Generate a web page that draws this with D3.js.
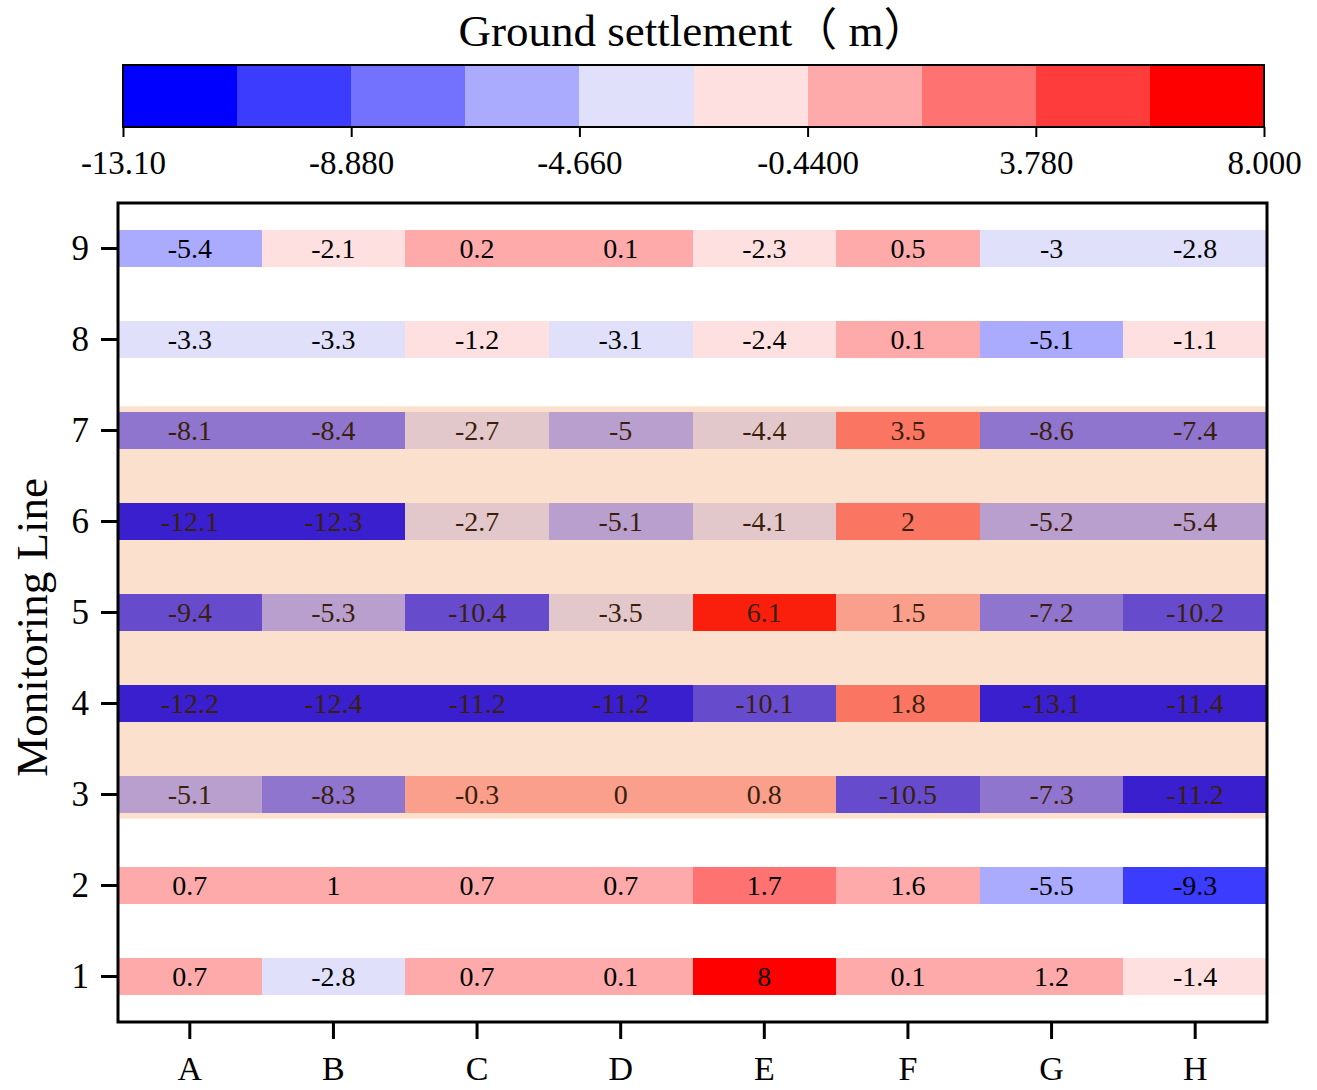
<!DOCTYPE html>
<html>
<head>
<meta charset="utf-8">
<script src="https://cdn.jsdelivr.net/npm/d3@7"></script>
<style>
  body { margin: 0; background: #fff; }
  svg text { font-family: 'Liberation Serif', 'Times New Roman', 'Noto Sans CJK SC', serif; fill: #000; }
</style>
</head>
<body>
<svg id="chart"></svg>
<script>
// monitoring points along each line
var columns = ['A', 'B', 'C', 'D', 'E', 'F', 'G', 'H'];
var lines = [9, 8, 7, 6, 5, 4, 3, 2, 1];

// settlement values (m), one array per monitoring line
var line9 = [-5.4, -2.1, 0.2, 0.1, -2.3, 0.5, -3, -2.8];
var line8 = [-3.3, -3.3, -1.2, -3.1, -2.4, 0.1, -5.1, -1.1];
var line7 = [-8.1, -8.4, -2.7, -5, -4.4, 3.5, -8.6, -7.4];
var line6 = [-12.1, -12.3, -2.7, -5.1, -4.1, 2, -5.2, -5.4];
var line5 = [-9.4, -5.3, -10.4, -3.5, 6.1, 1.5, -7.2, -10.2];
var line4 = [-12.2, -12.4, -11.2, -11.2, -10.1, 1.8, -13.1, -11.4];
var line3 = [-5.1, -8.3, -0.3, 0, 0.8, -10.5, -7.3, -11.2];
var line2 = [0.7, 1, 0.7, 0.7, 1.7, 1.6, -5.5, -9.3];
var line1 = [0.7, -2.8, 0.7, 0.1, 8, 0.1, 1.2, -1.4];
var settlement = [line9, line8, line7, line6, line5, line4, line3, line2, line1];

// colour bar
var valueRange = [-13.1, 8.0];
var binColors = ['#0000ff', '#3c3cff', '#7272ff', '#aaaaff', '#e0e0fb',
                 '#ffe0e0', '#ffaaaa', '#ff7272', '#ff3c3c', '#ff0000'];
var cbTickValues = [-13.1, -8.88, -4.66, -0.44, 3.78, 8.0];
var cbTickLabels = ['-13.10', '-8.880', '-4.660', '-0.4400', '3.780', '8.000'];

// shaded zone (lines 3 to 7)
var zoneLines = [7, 3];

var width = 1317, height = 1090;
var plot = { left: 118, right: 1267, top: 203, bottom: 1022 };
var cb = { left: 123, right: 1264, top: 65, bottom: 127 };

var svg = d3.select('#chart')
    .attr('width', width)
    .attr('height', height);

// ---- colour scale + colour bar ----
var nBins = binColors.length;
var step = (valueRange[1] - valueRange[0]) / nBins;
var edges = d3.range(nBins + 1).map(i => valueRange[0] + i * step);

var color = d3.scaleThreshold()
    .domain(edges.slice(1, -1))
    .range(binColors);

var cbScale = d3.scaleLinear()
    .domain(valueRange)
    .range([cb.left, cb.right]);

svg.append('text')
    .attr('x', (cb.left + cb.right) / 2)
    .attr('y', 46)
    .attr('text-anchor', 'middle')
    .style('font-size', '45px')
    .text('Ground settlement（ m）');

svg.append('g')
    .selectAll('rect')
    .data(binColors)
    .join('rect')
        .attr('x', (d, i) => cbScale(edges[i]))
        .attr('y', cb.top)
        .attr('width', (d, i) => cbScale(edges[i + 1]) - cbScale(edges[i]))
        .attr('height', cb.bottom - cb.top)
        .attr('fill', d => d)
        .attr('shape-rendering', 'crispEdges');

svg.append('rect')
    .attr('x', cb.left)
    .attr('y', cb.top)
    .attr('width', cb.right - cb.left)
    .attr('height', cb.bottom - cb.top)
    .attr('fill', 'none')
    .attr('stroke', '#000')
    .attr('stroke-width', 2);

var cbAxis = svg.append('g')
    .attr('transform', `translate(0,${cb.bottom})`)
    .call(d3.axisBottom(cbScale)
        .tickValues(cbTickValues)
        .tickFormat((d, i) => cbTickLabels[i])
        .tickSize(10)
        .tickSizeOuter(0)
        .tickPadding(14));
cbAxis.select('.domain').remove();
cbAxis.selectAll('line').attr('stroke-width', 2);
cbAxis.selectAll('text').style('font-size', '33px');

// ---- heat strips ----
var x = d3.scaleBand()
    .domain(columns)
    .range([plot.left, plot.right]);

var y = d3.scaleBand()
    .domain(lines)
    .range([plot.top, plot.bottom]);

var bw = y.bandwidth();
var cells = [];
settlement.forEach((row, r) => {
    row.forEach((v, c) => {
        cells.push({ line: lines[r], col: columns[c], value: v });
    });
});

var cellG = svg.append('g');
cellG.selectAll('rect')
    .data(cells)
    .join('rect')
        .attr('x', d => x(d.col))
        .attr('y', d => y(d.line) + bw * 0.3)
        .attr('width', x.bandwidth())
        .attr('height', bw * 0.4)
        .attr('fill', d => color(d.value))
        .attr('shape-rendering', 'crispEdges');

cellG.selectAll('text')
    .data(cells)
    .join('text')
        .attr('x', d => x(d.col) + x.bandwidth() / 2)
        .attr('y', d => y(d.line) + bw / 2)
        .attr('dy', '0.35em')
        .attr('text-anchor', 'middle')
        .style('font-size', '28px')
        .text(d => String(d.value));

// translucent shaded zone on top of lines 3-7
var zoneTop = y(zoneLines[0]) + bw * 0.5 - bw * 0.265;
var zoneBottom = y(zoneLines[1]) + bw * 0.5 + bw * 0.265;
svg.append('rect')
    .attr('x', plot.left)
    .attr('y', zoneTop)
    .attr('width', plot.right - plot.left)
    .attr('height', zoneBottom - zoneTop)
    .attr('fill', '#ec7f31')
    .attr('fill-opacity', 0.245);

// ---- axes ----
var yAxis = svg.append('g')
    .attr('transform', `translate(${plot.left},0)`)
    .call(d3.axisLeft(y).tickSize(17).tickSizeOuter(0).tickPadding(12));
yAxis.select('.domain').remove();
yAxis.selectAll('line').attr('stroke-width', 3);
yAxis.selectAll('text').style('font-size', '35px');

var xAxis = svg.append('g')
    .attr('transform', `translate(0,${plot.bottom})`)
    .call(d3.axisBottom(x).tickSize(17).tickSizeOuter(0).tickPadding(17));
xAxis.select('.domain').remove();
xAxis.selectAll('line').attr('stroke-width', 3);
xAxis.selectAll('text').style('font-size', '34px');

svg.append('rect')
    .attr('x', plot.left)
    .attr('y', plot.top)
    .attr('width', plot.right - plot.left)
    .attr('height', plot.bottom - plot.top)
    .attr('fill', 'none')
    .attr('stroke', '#000')
    .attr('stroke-width', 3);

svg.append('text')
    .attr('transform', `translate(47,${(plot.top + plot.bottom) / 2 + 15}) rotate(-90)`)
    .attr('text-anchor', 'middle')
    .style('font-size', '45px')
    .text('Monitoring Line');
</script>
</body>
</html>
